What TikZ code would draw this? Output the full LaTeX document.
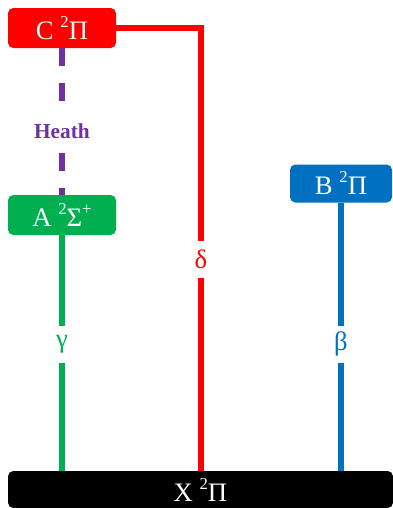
\documentclass[tikz,border=0pt]{standalone}
\usepackage{fontspec}
\setmainfont{Liberation Serif}
\definecolor{cred}{HTML}{FF0000}
\definecolor{cpurple}{HTML}{7030A0}
\definecolor{cgreen}{HTML}{00B050}
\definecolor{cblue}{HTML}{0070C0}
\newcommand{\sps}[1]{\raisebox{0.45em}{\fontsize{12.5pt}{12pt}\selectfont #1}}
\tikzset{
  statebox/.style={rounded corners=4pt, inner sep=0pt, text=white,
    font=\fontsize{20pt}{22pt}\selectfont},
  tline/.style={line width=4pt},
  glabel/.style={fill=white, inner sep=0pt, minimum width=20pt, minimum height={37*0.75pt},
    font=\fontsize{20pt}{22pt}\selectfont},
}
\begin{document}
\begin{tikzpicture}[x=0.75pt,y=-0.75pt]
\useasboundingbox (0,0) rectangle (393,508);
\clip (0,0) rectangle (393,508);
\node[statebox, fill=cred, minimum width={108*0.75pt}, minimum height={40*0.75pt}] (C) at (62,28) {C \sps{2}Π};
\node[statebox, fill=cgreen, minimum width={108*0.75pt}, minimum height={40*0.75pt}] (A) at (62,215) {A \sps{2}Σ\sps{+}};
\node[statebox, fill=cblue, minimum width={102*0.75pt}, minimum height={38*0.75pt}] (B) at (341,183.5) {B \sps{2}Π};
\node[statebox, fill=black, minimum width={385*0.75pt}, minimum height={37*0.75pt}] (X) at (200.5,489.5) {X \sps{2}Π};
\coordinate (rc) at (201,0);
% connectors
\draw[tline, cpurple, dash pattern=on 13.5pt off 12.75pt] (C.south) -- (A.north);
\draw[tline, cred] (C.east) -| (rc |- X.north);
\draw[tline, cgreen] (A.south) -- (A.south |- X.north);
\draw[tline, cblue] (B.south) -- (B.south |- X.north);
% labels
\node[fill=white, text=cpurple, inner sep=0pt, minimum height={36*0.75pt},
      font=\bfseries\fontsize{16pt}{18pt}\selectfont] (heath) at (62,131) {Heath};
\node[glabel, text=cred] (delta) at (201,259) {δ};
\node[glabel, text=cgreen] (gamma) at (62,344) {γ};
\node[glabel, text=cblue] (beta) at (341,344) {β};
\end{tikzpicture}
\end{document}
